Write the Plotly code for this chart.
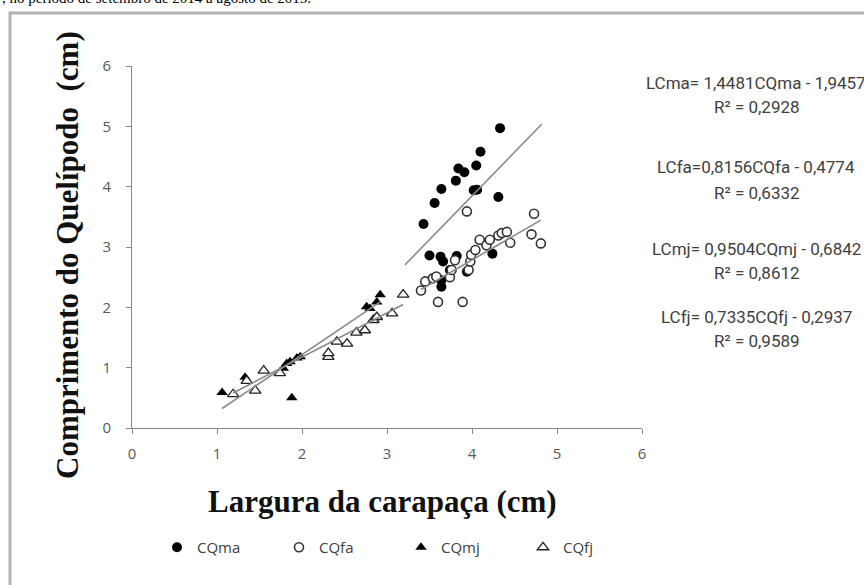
import plotly.graph_objects as go

# ---------------- data ----------------
cqma_x = [3.43, 3.56, 3.64, 3.81, 3.84, 3.91, 4.05, 4.10, 4.33, 4.02, 4.06, 4.31,
          3.50, 3.63, 3.66, 3.82, 4.24, 3.74, 3.64, 3.64, 3.94]
cqma_y = [3.38, 3.73, 3.96, 4.10, 4.30, 4.24, 4.35, 4.58, 4.97, 3.94, 3.95, 3.83,
          2.86, 2.84, 2.76, 2.85, 2.89, 2.62, 2.45, 2.34, 2.59]

cqfa_x = [3.40, 3.45, 3.54, 3.60, 3.58, 3.74, 3.76, 3.80, 3.89, 3.94, 3.96, 3.98,
          3.99, 4.04, 4.09, 4.17, 4.21, 4.31, 4.35, 4.41, 4.45, 4.70, 4.73, 4.81]
cqfa_y = [2.28, 2.43, 2.48, 2.09, 2.51, 2.50, 2.62, 2.78, 2.09, 3.59, 2.62, 2.76,
          2.87, 2.95, 3.12, 3.03, 3.12, 3.19, 3.23, 3.25, 3.07, 3.21, 3.55, 3.06]

cqmj_x = [1.06, 1.33, 1.78, 1.82, 1.86, 1.88, 1.94, 1.98, 2.76, 2.80, 2.88, 2.92]
cqmj_y = [0.59, 0.84, 0.99, 1.07, 1.10, 0.50, 1.16, 1.18, 2.01, 1.98, 2.09, 2.21]

cqfj_x = [1.19, 1.35, 1.45, 1.55, 1.74, 2.31, 2.31, 2.41, 2.53, 2.64, 2.74, 2.84,
          2.88, 3.06, 3.19]
cqfj_y = [0.56, 0.78, 0.62, 0.95, 0.91, 1.18, 1.24, 1.43, 1.40, 1.58, 1.62, 1.79,
          1.84, 1.90, 2.21]

# trend line coefficients (slope, intercept) and x spans
trend_coef = {"CQma": (1.4481, -1.9457), "CQfa": (0.8156, -0.4774),
              "CQmj": (0.9504, -0.6842), "CQfj": (0.7335, -0.2937)}
trend_span = {"CQma": (3.21, 4.82), "CQfa": (3.40, 4.81),
              "CQmj": (1.06, 2.92), "CQfj": (1.19, 3.19)}

equations = [("LCma= 1,4481CQma - 1,9457", "R² = 0,2928"),
             ("LCfa=0,8156CQfa - 0,4774", "R² = 0,6332"),
             ("LCmj= 0,9504CQmj - 0,6842", "R² = 0,8612"),
             ("LCfj= 0,7335CQfj - 0,2937", "R² = 0,9589")]

x_ticks = [0, 1, 2, 3, 4, 5, 6]
y_ticks = [0, 1, 2, 3, 4, 5, 6]

# ---------------- layout helpers ----------------
W, H = 864, 585
L, R, T, B = 132, 222, 66, 157
PW, PH = W - L - R, H - T - B


def px(xp):
    return (xp - L) / PW


def py(yp):
    return (H - B - yp) / PH


fig = go.Figure()

fig.add_trace(go.Scatter(x=cqma_x, y=cqma_y, mode="markers", name="CQma",
                         marker=dict(symbol="circle", size=10, color="black")))
fig.add_trace(go.Scatter(x=cqfa_x, y=cqfa_y, mode="markers", name="CQfa",
                         marker=dict(symbol="circle", size=9, color="white",
                                     line=dict(color="#333333", width=1.6))))
fig.add_trace(go.Scatter(x=cqmj_x, y=cqmj_y, mode="markers", name="CQmj",
                         marker=dict(symbol="triangle-up", size=10, color="black")))
fig.add_trace(go.Scatter(x=cqfj_x, y=cqfj_y, mode="markers", name="CQfj",
                         marker=dict(symbol="triangle-up", size=10, color="white",
                                     line=dict(color="#222222", width=1.3))))

for key, (a, b) in trend_coef.items():
    x0, x1 = trend_span[key]
    fig.add_trace(go.Scatter(x=[x0, x1], y=[a * x0 + b, a * x1 + b], mode="lines",
                             line=dict(color="#8a8a8a", width=1.6),
                             showlegend=False, hoverinfo="skip"))

tickfont = dict(family="Open Sans", size=15, color="#595959")
fig.update_xaxes(range=[0, 6], tickvals=x_ticks, showline=True, linecolor="#868686",
                 linewidth=1, ticks="outside", ticklen=5, tickcolor="#868686",
                 showgrid=False, zeroline=False, tickfont=tickfont, automargin=False,
                 ticklabelstandoff=7)
fig.update_yaxes(range=[0, 6], tickvals=y_ticks, showline=True, linecolor="#868686",
                 linewidth=1, ticks="outside", ticklen=5, tickcolor="#868686",
                 showgrid=False, zeroline=False, tickfont=tickfont, automargin=False,
                 ticklabelstandoff=12)

annotations = []
# axis titles
annotations.append(dict(text="<b>Largura da carapaça (cm)</b>", xref="paper", yref="paper",
                        x=px(382), y=py(501), showarrow=False, xanchor="center",
                        yanchor="middle",
                        font=dict(family="Liberation Serif", size=31, color="#111111")))
annotations.append(dict(text="<b>Comprimento do Quelípodo  (cm)</b>", xref="paper", yref="paper",
                        x=px(68), y=py(255), showarrow=False, textangle=-90,
                        xanchor="center", yanchor="middle",
                        font=dict(family="Liberation Serif", size=31, color="#111111")))
# equations
eq_rows = [(83, 107), (167, 193), (249, 273), (317, 341)]
for (eq, r2), (y1, y2) in zip(equations, eq_rows):
    annotations.append(dict(text=eq, xref="paper", yref="paper", x=px(756), y=py(y1),
                            showarrow=False, xanchor="center", yanchor="middle",
                            font=dict(family="Roboto", size=17, color="#404040")))
    annotations.append(dict(text=r2, xref="paper", yref="paper", x=px(757), y=py(y2),
                            showarrow=False, xanchor="center", yanchor="middle",
                            font=dict(family="Roboto", size=17, color="#404040")))
# caption fragment at the top
annotations.append(dict(text=", no período de setembro de 2014 a agosto de 2015.",
                        xref="paper", yref="paper", x=px(0), y=py(8), xanchor="left",
                        yanchor="bottom", showarrow=False,
                        font=dict(family="Liberation Serif", size=15, color="black")))

fig.update_layout(
    width=W, height=H,
    margin=dict(l=L, r=R, t=T, b=B, pad=0, autoexpand=False),
    paper_bgcolor="white", plot_bgcolor="white",
    annotations=annotations,
    showlegend=True,
    legend=dict(orientation="h", x=px(157), y=py(531), xanchor="left", yanchor="top",
                entrywidth=77, entrywidthmode="pixels",
                font=dict(family="Open Sans", size=15, color="#404040"),
                itemsizing="trace", bgcolor="rgba(0,0,0,0)"),
    shapes=[dict(type="rect", xref="paper", yref="paper",
                 x0=px(10), x1=px(880), y0=py(600), y1=py(13),
                 line=dict(color="#b4b4b4", width=3), layer="below")],
)

fig.write_html("out.html", config={"displayModeBar": False},
               post_script="document.body.style.margin='0px';document.body.style.overflow='hidden';")
